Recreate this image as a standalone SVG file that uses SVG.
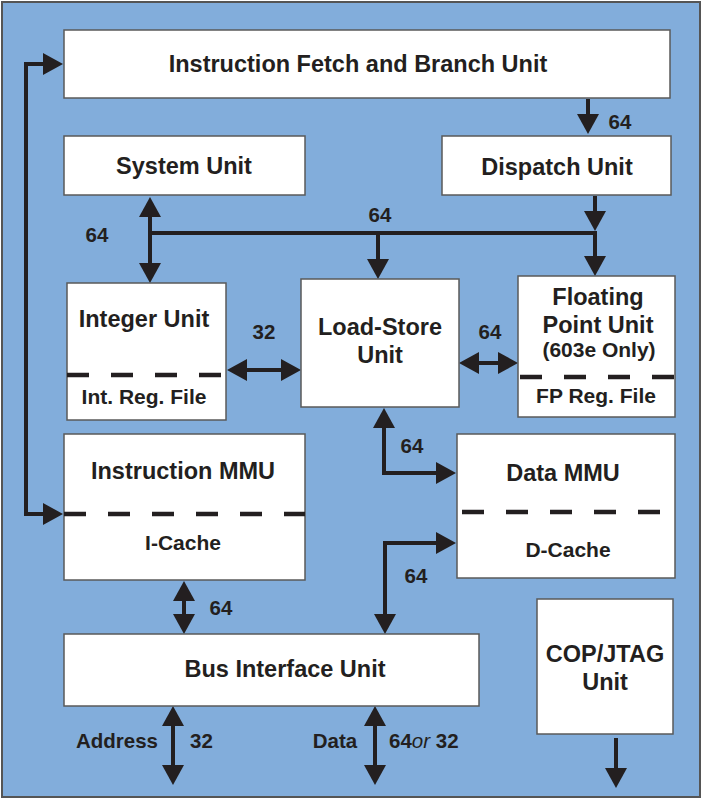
<svg xmlns="http://www.w3.org/2000/svg" width="703" height="800" viewBox="0 0 703 800">
<defs>
<style>
.box{fill:#fff;stroke:#5a5a5a;stroke-width:1.5}
.t{font-family:"Liberation Sans",Arial,sans-serif;font-weight:bold;fill:#231f20;text-anchor:middle}
.m{font-size:23.5px}
.s{font-size:21px}
.l{font-size:20.5px}
.dash{stroke:#231f20;stroke-width:4.5;stroke-dasharray:22 22;fill:none}
.c{stroke:#231f20;stroke-width:4;fill:none}
.a{marker-end:url(#ah)}
.aa{marker-start:url(#ah);marker-end:url(#ah)}
</style>
<marker id="ah" viewBox="0 0 20 22" refX="12" refY="11" markerWidth="20" markerHeight="22" markerUnits="userSpaceOnUse" orient="auto-start-reverse">
<path d="M0,0 L20,11 L0,22 z" fill="#231f20"/>
</marker>
</defs>
<rect x="2" y="2" width="698" height="795" fill="#82addb" stroke="#555" stroke-width="2"/>

<g id="connectors">
<path class="c aa" d="M55,64 H26 V514 H55"/>
<path class="c a" d="M588,99 V126"/>
<path class="c a" d="M595,196 V223"/>
<path class="c" d="M150,233 H597"/>
<path class="c a" d="M595,233 V268"/>
<path class="c aa" d="M150,205 V275"/>
<path class="c a" d="M378,233 V271"/>
<path class="c aa" d="M235,370 H293"/>
<path class="c aa" d="M467,363 H510"/>
<path class="c aa" d="M384,416 V473 H448"/>
<path class="c aa" d="M448,543 H385 V626"/>
<path class="c aa" d="M184,589 V626"/>
<path class="c aa" d="M173,714 V777"/>
<path class="c aa" d="M375,714 V777"/>
<path class="c a" d="M616,738 V780"/>
<g class="t l">
<text x="620" y="129">64</text>
<text x="97" y="242">64</text>
<text x="380" y="222">64</text>
<text x="264" y="339">32</text>
<text x="490" y="339">64</text>
<text x="412" y="453">64</text>
<text x="416" y="583">64</text>
<text x="221" y="615">64</text>
<text x="158" y="748" text-anchor="end">Address</text>
<text x="190" y="748" text-anchor="start">32</text>
<text x="335" y="748">Data</text>
<text x="389" y="748" text-anchor="start">64<tspan font-style="italic" font-weight="normal">or</tspan> 32</text>
</g>
</g>

<g id="fetch">
<rect class="box" x="64" y="30" width="606" height="68"/>
<text class="t m" x="358" y="72">Instruction Fetch and Branch Unit</text>
</g>
<g id="system">
<rect class="box" x="64" y="136" width="241" height="59"/>
<text class="t m" x="184" y="174">System Unit</text>
</g>
<g id="dispatch">
<rect class="box" x="442" y="136" width="229" height="59"/>
<text class="t m" x="557" y="175">Dispatch Unit</text>
</g>
<g id="integer">
<rect class="box" x="67" y="283" width="159" height="137"/>
<text class="t m" x="144" y="327">Integer Unit</text>
<line class="dash" x1="67" y1="375" x2="226" y2="375"/>
<text class="t s" x="144" y="404">Int. Reg. File</text>
</g>
<g id="loadstore">
<rect class="box" x="301" y="279" width="158" height="128"/>
<text class="t m" x="380" y="335">Load-Store</text>
<text class="t m" x="380" y="363">Unit</text>
</g>
<g id="fpu">
<rect class="box" x="518" y="276" width="157" height="141"/>
<text class="t m" x="598" y="305">Floating</text>
<text class="t m" x="598" y="333">Point Unit</text>
<text class="t s" x="599" y="357">(603e Only)</text>
<line class="dash" x1="520" y1="377" x2="675" y2="377"/>
<text class="t s" x="596" y="403">FP Reg. File</text>
</g>
<g id="immu">
<rect class="box" x="64" y="434" width="241" height="146"/>
<text class="t m" x="183" y="479">Instruction MMU</text>
<line class="dash" x1="64" y1="514" x2="305" y2="514"/>
<text class="t s" x="183" y="550">I-Cache</text>
</g>
<g id="dmmu">
<rect class="box" x="457" y="434" width="218" height="144"/>
<text class="t m" x="563" y="481">Data MMU</text>
<line class="dash" x1="462" y1="512" x2="670" y2="512"/>
<text class="t s" x="568" y="557">D-Cache</text>
</g>
<g id="biu">
<rect class="box" x="64" y="634" width="415" height="72"/>
<text class="t m" x="285" y="677">Bus Interface Unit</text>
</g>
<g id="cop">
<rect class="box" x="537" y="599" width="136" height="135"/>
<text class="t m" x="605" y="662">COP/JTAG</text>
<text class="t m" x="605" y="690">Unit</text>
</g>
</svg>
